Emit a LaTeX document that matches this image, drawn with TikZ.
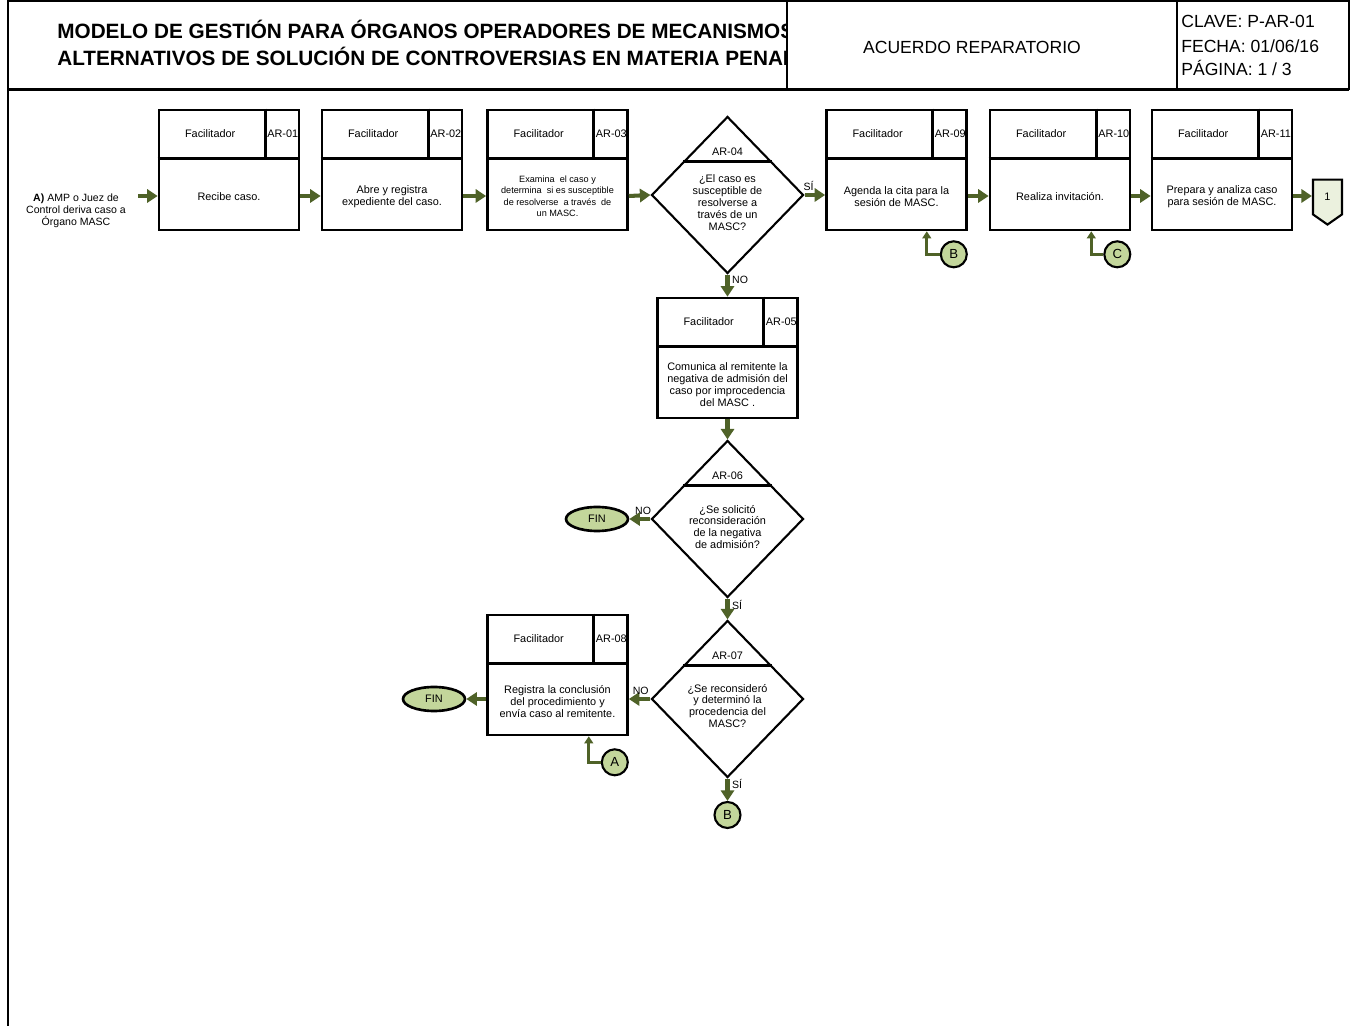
\documentclass[tikz,border=0pt]{standalone}
\usepackage{fontspec}
\setmainfont{Liberation Sans}
\usetikzlibrary{shapes.geometric,shapes.symbols,arrows.meta,calc}

\definecolor{verde}{HTML}{4F6228}
\definecolor{verdeclaro}{HTML}{C3D69B}
\definecolor{verdepalido}{HTML}{EBF1DE}

\tikzset{
  caja/.style={draw, line width=1.5pt, minimum width=2.8cm, minimum height=2.4cm, inner sep=0pt},
  rombo/.style={diamond, draw, line width=1.2pt, minimum width=3.04cm, minimum height=3.14cm, inner sep=0pt},
  txt/.style={font=\fontsize{6.2}{6.8}\selectfont, align=center, inner sep=0pt},
  etiq/.style={font=\fontsize{6}{7}\selectfont, inner sep=1.5pt},
  flecha/.style={draw=verde, line width=2.3pt, -{Triangle[width=7.5pt,length=6pt]}},
  flechita/.style={draw=verde, line width=1.6pt, -{Triangle[width=5pt,length=4pt]}},
  conector/.style={circle, draw, line width=1.2pt, fill=verdeclaro, minimum size=0.52cm, inner sep=0pt, font=\fontsize{7.5}{8}\selectfont},
  fin/.style={ellipse, draw, line width=1.5pt, fill=verdeclaro, minimum width=1.24cm, minimum height=0.48cm, inner sep=0pt, font=\fontsize{6.2}{7}\selectfont},
  paginador/.style={signal, signal to=south, signal pointer angle=110, draw, line width=1.2pt, fill=verdepalido, minimum width=0.58cm, minimum height=0.74cm, inner sep=0pt, font=\fontsize{6.2}{7}\selectfont},
  marco/.style={line width=0.9pt}
}

% caja de actividad: [fuente]{nombre}{centro}{clave}{texto}
\newcommand{\actividad}[5][]{%
  \node[caja] (#2) at (#3) {};
  \draw[line width=1.5pt] ($(#2.north west)+(0,50)$) -- ($(#2.north east)+(0,50)$);
  \draw[line width=1.5pt] ($(#2.north east)+(-35,0)$) -- ($(#2.north east)+(-35,50)$);
  \node[txt] (#2f) at ($(#2.north west)+(52.5,25)$) {Facilitador};
  \node[txt] (#2c) at ($(#2.north east)+(-17.5,25)$) {#4};
  \node[txt,#1] (#2t) at ($(#2.south)+(0,-35)$) {#5};
}

% rombo de decision: {nombre}{centro}{clave}{desplazamiento}{pregunta}
\newcommand{\decision}[5]{%
  \node[rombo] (#1) at (#2) {};
  \draw[line width=1.2pt] ($(#1.north)+(-44.5,46)$) -- ($(#1.north)+(44.5,46)$);
  \node[txt] (#1c) at ($(#1.north)+(0,36)$) {#3};
  \node[txt] (#1t) at ($(#1.center)+(0,#4)$) {#5};
}

\begin{document}
\begin{tikzpicture}[x=0.02cm, y=-0.02cm]
\useasboundingbox (0,0) rectangle (1350,1026);

% encabezado
\draw[marco] (8,1) -- (1349,1) -- (1349,90);
\draw[line width=1.2pt] (8,0) -- (8,1026);
\draw[line width=1.7pt] (8,90) -- (1349,90);
\draw[marco] (787,0) -- (787,90);
\draw[marco] (1177,0) -- (1177,90);
\begin{scope}
  \clip (8,0) rectangle (786,90);
  \node[anchor=base west, inner sep=0pt, font=\fontsize{11.8}{13}\selectfont\bfseries] (tit1) at (57,39) {MODELO DE GESTIÓN PARA ÓRGANOS OPERADORES DE MECANISMOS};
  \node[anchor=base west, inner sep=0pt, font=\fontsize{11.8}{13}\selectfont\bfseries] (tit2) at (57,66) {ALTERNATIVOS DE SOLUCIÓN DE CONTROVERSIAS EN MATERIA PENAL};
\end{scope}
\node[inner sep=0pt, font=\fontsize{10}{12}\selectfont] (proc) at (972,47) {ACUERDO REPARATORIO};
\node[anchor=base west, inner sep=0pt, font=\fontsize{10}{12}\selectfont] (clave) at (1181,28) {CLAVE: P-AR-01};
\node[anchor=base west, inner sep=0pt, font=\fontsize{10}{12}\selectfont] (fecha) at (1181,53) {FECHA: 01/06/16};
\node[anchor=base west, inner sep=0pt, font=\fontsize{10}{12}\selectfont] (pagina) at (1181,76) {PÁGINA: 1 / 3};

% actividades
\node[txt, font=\fontsize{6}{6.8}\selectfont] (entrada) at (76,211) {\textbf{A)} AMP o Juez de\\Control deriva caso a\\Órgano MASC};
\actividad{ar01}{229,170}{AR-01}{Recibe caso.}
\actividad{ar02}{392,170}{AR-02}{Abre y registra\\expediente del caso.}
\actividad[font=\fontsize{5.2}{6.5}\selectfont]{ar03}{557.5,170}{AR-03}{Examina \ el caso y\\determina \ si es susceptible\\de resolverse \ a través \ de\\un MASC.}
\decision{ar04}{727.5,195}{AR-04}{8}{¿El caso es\\susceptible de\\resolverse a\\través de un\\MASC?}
\actividad{ar09}{896.5,170}{AR-09}{Agenda la cita para la\\sesión de MASC.}
\actividad{ar10}{1060,170}{AR-10}{Realiza invitación.}
\actividad{ar11}{1222,170}{AR-11}{Prepara y analiza caso\\para sesión de MASC.}
\node[paginador] (p1) at (1327.5,197) {1};

\actividad{ar05}{727.5,358}{AR-05}{Comunica al remitente la\\negativa de admisión del\\caso por improcedencia\\del MASC .}
\decision{ar06}{727.5,519}{AR-06}{8}{¿Se solicitó\\reconsideración\\de la negativa\\de admisión?}
\decision{ar07}{727.5,699}{AR-07}{7}{¿Se reconsideró\\y determinó la\\procedencia del\\MASC?}
\actividad{ar08}{557.5,675}{AR-08}{Registra la conclusión\\del procedimiento y\\envía caso al remitente.}

\node[fin] (fin1) at (597,519) {FIN};
\node[fin] (fin2) at (434,699) {FIN};
\node[conector] (cb1) at ($(ar09.south east)+(-14,23)$) {B};
\node[conector] (cc) at ($(ar10.south east)+(-14,23)$) {C};
\node[conector] (ca) at ($(ar08.south east)+(-14,26)$) {A};
\node[conector] (cb2) at (727.5,815) {B};

% flechas
\coordinate (inicio) at (138,196);
\draw[flecha] (inicio) -- (inicio -| ar01.west);
\draw[flecha] (ar01.east |- inicio) -- (ar02.west |- inicio);
\draw[flecha] (ar02.east |- inicio) -- (ar03.west |- inicio);
\draw[flecha] (ar03.east |- inicio) -- (ar04.west);
\draw[flecha] (ar04.east) -- node[etiq, above, pos=0.2] {SÍ} (ar09.west |- ar04.east);
\draw[flecha] (ar09.east |- inicio) -- (ar10.west |- inicio);
\draw[flecha] (ar10.east |- inicio) -- (ar11.west |- inicio);
\draw[flecha] (ar11.east |- inicio) -- (p1.west |- inicio);
\draw[flecha] (ar04.south) -- node[etiq, right, pos=0.25] {NO} (ar05.north);
\draw[flecha] (ar05.south) -- (ar06.north);
\draw[flecha] (ar06.west) -- node[etiq, above, pos=0.35] {NO} (fin1.east);
\draw[flecha] (ar06.south) -- node[etiq, right, pos=0.3] {SÍ} (ar07.north);
\draw[flecha] (ar07.west) -- node[etiq, above, pos=0.45] {NO} (ar07.west -| ar08.east);
\draw[flecha] (fin2 -| ar08.west) -- (fin2.east);
\draw[flecha] (ar07.south) -- node[etiq, right, pos=0.25] {SÍ} (cb2.north);
\draw[flechita] (cb1.west) -| ($(ar09.south east)+(-41,0)$);
\draw[flechita] (cc.west) -| ($(ar10.south east)+(-40,0)$);
\draw[flechita] (ca.west) -| ($(ar08.south east)+(-40,0)$);
\end{tikzpicture}
\end{document}
